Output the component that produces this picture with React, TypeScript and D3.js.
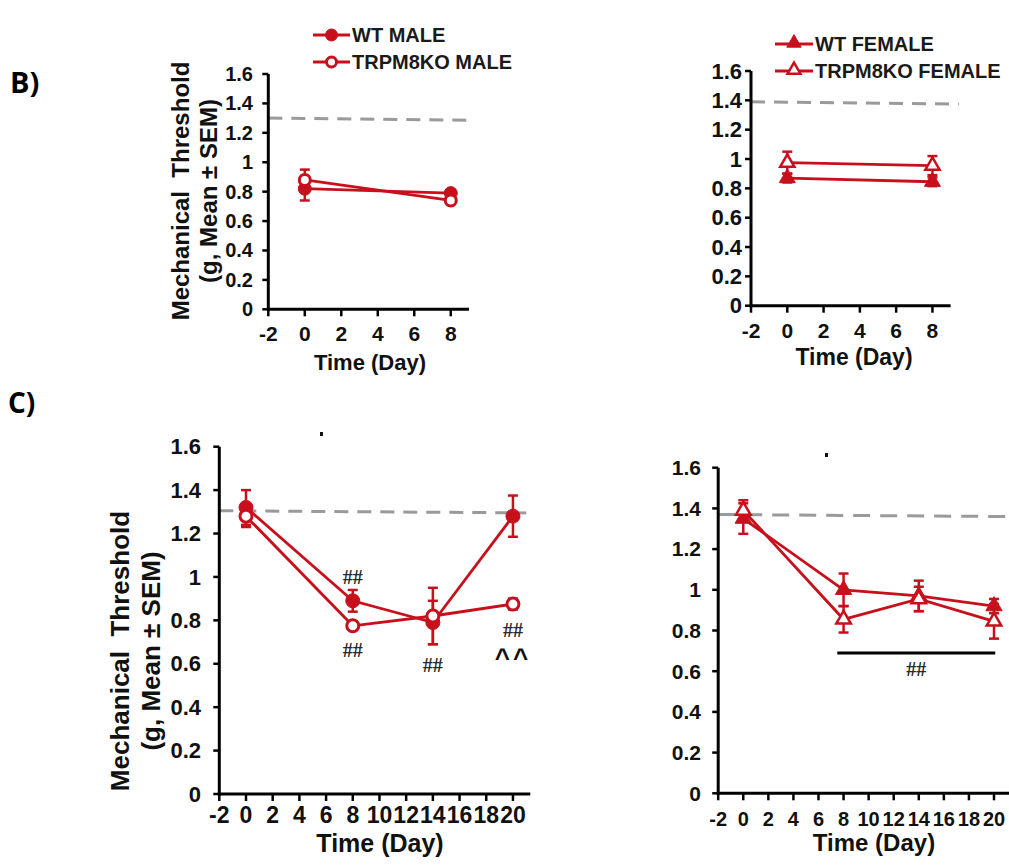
import React from "react";
import * as d3 from "d3";

// ---------- data ----------
const daysB = [0, 8];
const wtMaleB = [0.82, 0.79];
const wtMaleBErr = [0.08, 0.02];
const koMaleB = [0.88, 0.74];
const koMaleBErr = [0.07, 0.02];

const wtFemaleB = [0.87, 0.845];
const wtFemaleBErr = [0.03, 0.03];
const koFemaleB = [0.975, 0.955];
const koFemaleBErr = [0.075, 0.065];

const daysC = [0, 8, 14, 20];
const wtMaleC = [1.32, 0.89, 0.79, 1.28];
const wtMaleCErr = [0.08, 0.05, 0.1, 0.095];
const koMaleC = [1.28, 0.775, 0.82, 0.875];
const koMaleCErr = [0.05, 0.02, 0.13, 0.025];

const wtFemaleC = [1.35, 1.0, 0.97, 0.92];
const wtFemaleCErr = [0.075, 0.08, 0.075, 0.035];
const koFemaleC = [1.39, 0.855, 0.955, 0.845];
const koFemaleCErr = [0.05, 0.065, 0.06, 0.085];

// baseline (dashed) values at start / end
const baseMaleB = [1.3, 1.285];
const baseFemaleB = [1.39, 1.375];
const baseMaleC = [1.305, 1.295];
const baseFemaleC = [1.37, 1.36];

const yTicks = [0, 0.2, 0.4, 0.6, 0.8, 1.0, 1.2, 1.4, 1.6];
const xTicksB = [-2, 0, 2, 4, 6, 8];
const xTicksC = [-2, 0, 2, 4, 6, 8, 10, 12, 14, 16, 18, 20];

const legendMale = ["WT MALE", "TRPM8KO MALE"];
const legendFemale = ["WT FEMALE", "TRPM8KO FEMALE"];

// annotations for panel C male: [text, day, value]
const annotMale: [string, number, number][] = [
  ["##", 8, 1.0],
  ["##", 8, 0.664],
  ["##", 14, 0.594],
  ["##", 20, 0.756],
];
const caretMale: [string, number, number][] = [["^^", 20, 0.65]];
// panel C female significance bar: [fromDay, toDay, value]
const sigFemale = [7.5, 20.1, 0.69];

// ---------- style ----------
const RED = "#c8101c";
const FONT = "'Liberation Sans', Arial, sans-serif";

type Series = { values: number[]; errors: number[]; shape: "circle" | "triangle"; filled: boolean };

type Cfg = {
  xLeft: number; xRight: number; xMax: number;
  yBottom: number; yTop: number;
  xTicks: number[];
  yTickFont: number; yTickRight: number;
  xTickFont: number; xTickBase: number;
  xTitleX: number; xTitleBase: number; xTitleFont: number;
  yTitle?: { x1: number; x2: number; cy: number; font: number };
  dash: string; dashEnd: number;
  r: number; triSize: number;
};

function Marker({ shape, filled, cx, cy, r, triSize }: any) {
  if (shape === "circle") {
    return (
      <circle cx={cx} cy={cy} r={filled ? r : r - 1} fill={filled ? RED : "#fff"} stroke={RED} strokeWidth={filled ? 1 : 3} />
    );
  }
  const p = d3.symbol(d3.symbolTriangle, filled ? triSize : triSize * 0.8)();
  return (
    <path d={p || ""} transform={`translate(${cx},${cy})`} fill={filled ? RED : "#fff"} stroke={RED} strokeWidth={filled ? 1 : 2.5} strokeLinejoin="miter" />
  );
}

function Panel({ cfg, days, series, base }: { cfg: Cfg; days: number[]; series: Series[]; base: number[] }) {
  const x = d3.scaleLinear().domain([-2, cfg.xMax]).range([cfg.xLeft, cfg.xRight]);
  const y = d3.scaleLinear().domain([0, 1.6]).range([cfg.yBottom, cfg.yTop]);
  const line = d3
    .line<number>()
    .x((_, i) => x(days[i]))
    .y((d) => y(d));
  const fmt = (t: number) => String(+t.toFixed(1));
  return (
    <g>
      {/* dashed baseline */}
      <line x1={x(-2)} x2={x(cfg.dashEnd)} y1={y(base[0])} y2={y(base[1])} stroke="#9a9a9a" strokeWidth={3} strokeDasharray={cfg.dash} />
      {/* axes */}
      <line x1={cfg.xLeft} x2={cfg.xLeft} y1={y(1.6)} y2={y(0) + 1.5} stroke="#000" strokeWidth={3} />
      <line x1={cfg.xLeft - 1.5} x2={cfg.xRight} y1={y(0)} y2={y(0)} stroke="#000" strokeWidth={3} />
      {yTicks.map((t) => (
        <g key={"y" + t}>
          <line x1={cfg.xLeft - 6} x2={cfg.xLeft} y1={y(t)} y2={y(t)} stroke="#000" strokeWidth={2.5} />
          <text x={cfg.yTickRight} y={y(t)} dy="0.35em" textAnchor="end" fontFamily={FONT} fontWeight="bold" fontSize={cfg.yTickFont} fill="#111">
            {fmt(t)}
          </text>
        </g>
      ))}
      {cfg.xTicks.map((t) => (
        <g key={"x" + t}>
          <line x1={x(t)} x2={x(t)} y1={y(0)} y2={y(0) + 7} stroke="#000" strokeWidth={2.5} />
          <text x={x(t)} y={cfg.xTickBase} textAnchor="middle" fontFamily={FONT} fontWeight="bold" fontSize={cfg.xTickFont} fill="#111">
            {String(t)}
          </text>
        </g>
      ))}
      <text x={cfg.xTitleX} y={cfg.xTitleBase} textAnchor="middle" fontFamily={FONT} fontWeight="bold" fontSize={cfg.xTitleFont} fill="#111">
        Time (Day)
      </text>
      {cfg.yTitle && (
        <g fontFamily={FONT} fontWeight="bold" fontSize={cfg.yTitle.font} fill="#111" textAnchor="middle">
          <text transform={`translate(${cfg.yTitle.x1},${cfg.yTitle.cy}) rotate(-90)`} dominantBaseline="central" xmlSpace="preserve">
            {"Mechanical  Threshold"}
          </text>
          <text transform={`translate(${cfg.yTitle.x2},${cfg.yTitle.cy}) rotate(-90)`} dominantBaseline="central">
            (g, Mean ± SEM)
          </text>
        </g>
      )}
      {/* series */}
      {series.map((s, si) => (
        <g key={"s" + si}>
          <path d={line(s.values) || ""} fill="none" stroke={RED} strokeWidth={2.8} />
        </g>
      ))}
      {series.map((s, si) => (
        <g key={"e" + si}>
          {s.values.map((v, i) => (
            <g key={i} stroke={RED} strokeWidth={2.5}>
              <line x1={x(days[i])} x2={x(days[i])} y1={y(v - s.errors[i])} y2={y(v + s.errors[i])} />
              <line x1={x(days[i]) - 5} x2={x(days[i]) + 5} y1={y(v + s.errors[i])} y2={y(v + s.errors[i])} />
              <line x1={x(days[i]) - 5} x2={x(days[i]) + 5} y1={y(v - s.errors[i])} y2={y(v - s.errors[i])} />
            </g>
          ))}
        </g>
      ))}
      {series.map((s, si) => (
        <g key={"m" + si}>
          {s.values.map((v, i) => (
            <Marker key={i} shape={s.shape} filled={s.filled} cx={x(days[i])} cy={y(v)} r={cfg.r} triSize={cfg.triSize} />
          ))}
        </g>
      ))}
    </g>
  );
}

function Legend({ x0, x1, tx, ys, labels, shape }: any) {
  return (
    <g>
      {labels.map((lab: string, i: number) => (
        <g key={lab}>
          <line x1={x0} x2={x1} y1={ys[i]} y2={ys[i]} stroke={RED} strokeWidth={3} />
          <Marker shape={shape} filled={i === 0} cx={(x0 + x1) / 2} cy={shape === "triangle" ? ys[i] - 1 : ys[i]} r={6} triSize={90} />
          <text x={tx} y={ys[i]} dy="0.36em" fontFamily={FONT} fontWeight="bold" fontSize={20} fill="#1a1a1a">
            {lab}
          </text>
        </g>
      ))}
    </g>
  );
}

const cfgBL: Cfg = {
  xLeft: 268.3, xRight: 469, xMax: 9, yBottom: 309.3, yTop: 74, xTicks: xTicksB,
  yTickFont: 20, yTickRight: 253, xTickFont: 21, xTickBase: 341,
  xTitleX: 370, xTitleBase: 370, xTitleFont: 22,
  yTitle: { x1: 180, x2: 208, cy: 191, font: 24 },
  dash: "14 9", dashEnd: 9.3, r: 6.5, triSize: 110,
};
const cfgBR: Cfg = {
  xLeft: 751, xRight: 950.6, xMax: 9, yBottom: 305.7, yTop: 71, xTicks: xTicksB,
  yTickFont: 22, yTickRight: 742, xTickFont: 21, xTickBase: 338,
  xTitleX: 854, xTitleBase: 365, xTitleFont: 23,
  dash: "14 9", dashEnd: 9.45, r: 6.5, triSize: 110,
};
const cfgCL: Cfg = {
  xLeft: 219.3, xRight: 530.3, xMax: 21.3, yBottom: 794, yTop: 446.7, xTicks: xTicksC,
  yTickFont: 22, yTickRight: 201, xTickFont: 23, xTickBase: 823,
  xTitleX: 380, xTitleBase: 852, xTitleFont: 25,
  yTitle: { x1: 120, x2: 151, cy: 651, font: 26 },
  dash: "14 9", dashEnd: 21, r: 7, triSize: 110,
};
const cfgCR: Cfg = {
  xLeft: 718.2, xRight: 1010.3, xMax: 21.3, yBottom: 793.3, yTop: 467.7, xTicks: xTicksC,
  yTickFont: 21, yTickRight: 701, xTickFont: 20, xTickBase: 826,
  xTitleX: 874, xTitleBase: 851, xTitleFont: 24,
  dash: "17 10", dashEnd: 21.3, r: 7, triSize: 115,
};

export default function App() {
  const xCL = d3.scaleLinear().domain([-2, cfgCL.xMax]).range([cfgCL.xLeft, cfgCL.xRight]);
  const yCL = d3.scaleLinear().domain([0, 1.6]).range([cfgCL.yBottom, cfgCL.yTop]);
  const xCR = d3.scaleLinear().domain([-2, cfgCR.xMax]).range([cfgCR.xLeft, cfgCR.xRight]);
  const yCR = d3.scaleLinear().domain([0, 1.6]).range([cfgCR.yBottom, cfgCR.yTop]);
  return (
    <svg width={1009} height={866} style={{ position: "absolute", left: 0, top: 0, background: "#fff" }}>
      <rect width={1009} height={866} fill="#fff" />
      <text x={10} y={93} fontFamily="'Open Sans', sans-serif" fontWeight="bold" fontSize={29} fill="#000">B)</text>
      <text x={8} y={413} fontFamily="'Open Sans', sans-serif" fontWeight="bold" fontSize={28} fill="#000">C)</text>

      <Panel
        cfg={cfgBL}
        days={daysB}
        base={baseMaleB}
        series={[
          { values: wtMaleB, errors: wtMaleBErr, shape: "circle", filled: true },
          { values: koMaleB, errors: koMaleBErr, shape: "circle", filled: false },
        ]}
      />
      <Legend x0={313} x1={350} tx={352} ys={[35, 62]} labels={legendMale} shape="circle" />

      <Panel
        cfg={cfgBR}
        days={daysB}
        base={baseFemaleB}
        series={[
          { values: wtFemaleB, errors: wtFemaleBErr, shape: "triangle", filled: true },
          { values: koFemaleB, errors: koFemaleBErr, shape: "triangle", filled: false },
        ]}
      />
      <Legend x0={775} x1={813} tx={815} ys={[44, 71]} labels={legendFemale} shape="triangle" />

      <Panel
        cfg={cfgCL}
        days={daysC}
        base={baseMaleC}
        series={[
          { values: wtMaleC, errors: wtMaleCErr, shape: "circle", filled: true },
          { values: koMaleC, errors: koMaleCErr, shape: "circle", filled: false },
        ]}
      />
      {annotMale.map(([t, d, v], i) => (
        <text key={"a" + i} x={xCL(d)} y={yCL(v)} dy="0.35em" textAnchor="middle" fontFamily="'Liberation Serif', serif" fontWeight="bold" fontSize={20} fill="#2a2a2a">
          {t}
        </text>
      ))}
      {caretMale.map(([t, d, v], i) => (
        <text key={"c" + i} x={xCL(d)} y={yCL(v)} dy="0.55em" textAnchor="middle" fontFamily={FONT} fontWeight="bold" fontSize={26} letterSpacing={3} fill="#111">
          {t}
        </text>
      ))}
      <rect x={320} y={432} width={3} height={4} fill="#111" />

      <Panel
        cfg={cfgCR}
        days={daysC}
        base={baseFemaleC}
        series={[
          { values: wtFemaleC, errors: wtFemaleCErr, shape: "triangle", filled: true },
          { values: koFemaleC, errors: koFemaleCErr, shape: "triangle", filled: false },
        ]}
      />
      <line x1={xCR(sigFemale[0])} x2={xCR(sigFemale[1])} y1={yCR(sigFemale[2])} y2={yCR(sigFemale[2])} stroke="#000" strokeWidth={3} />
      <text x={xCR((sigFemale[0] + sigFemale[1]) / 2)} y={yCR(sigFemale[2]) + 16} dy="0.35em" textAnchor="middle" fontFamily="'Liberation Serif', serif" fontWeight="bold" fontSize={20} fill="#2a2a2a">
        ##
      </text>
      <rect x={825} y={453} width={3} height={4} fill="#111" />
    </svg>
  );
}
